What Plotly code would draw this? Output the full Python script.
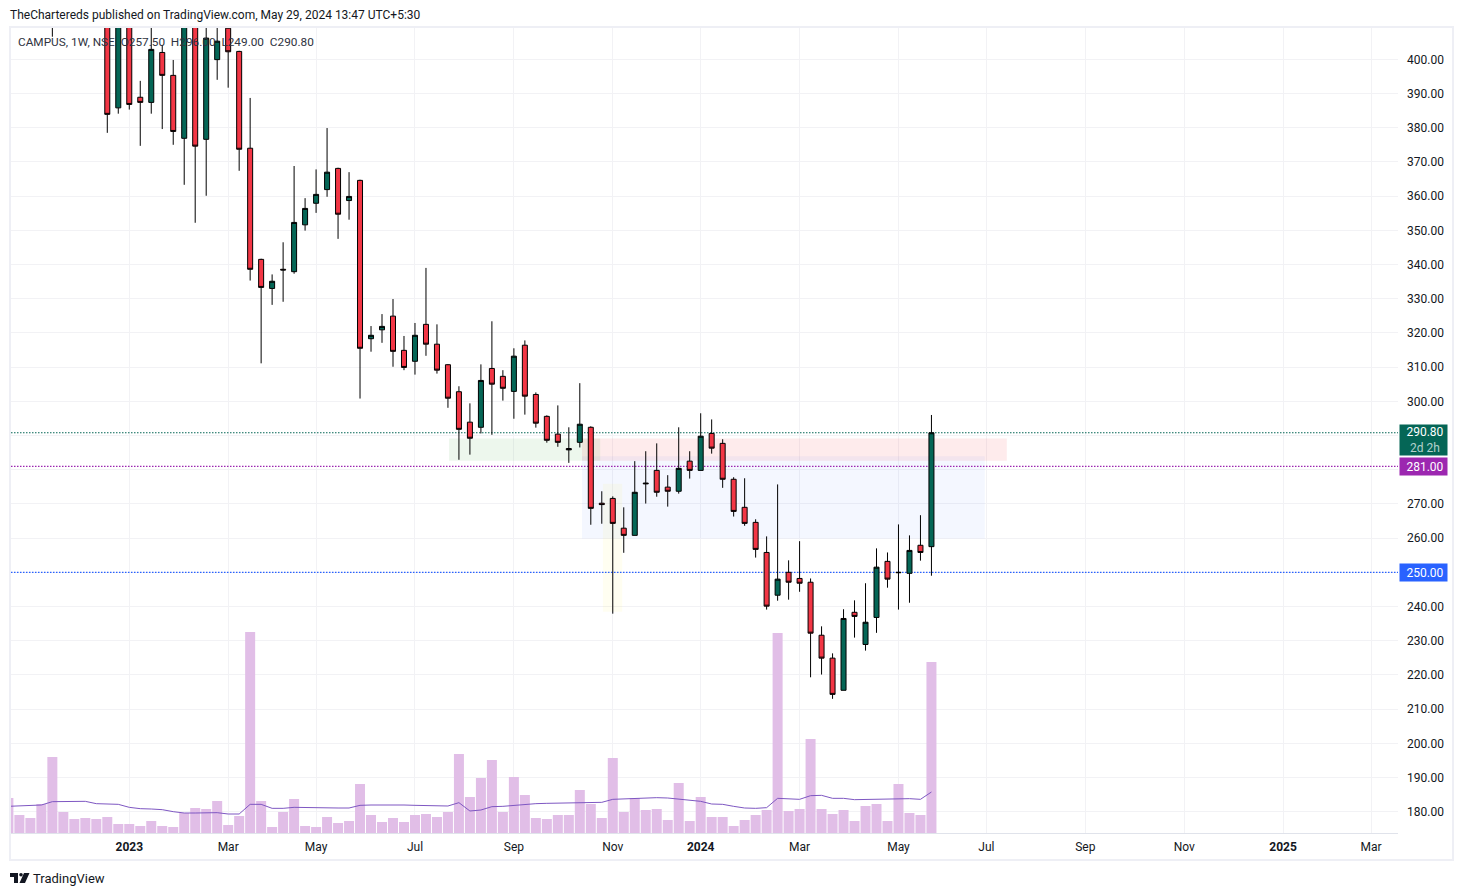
import datetime as dt
import plotly.graph_objects as go

# weekly bars, first one is the week of 17 Oct 2022 (first rows are off the top of the chart)
start_week = dt.datetime(2022, 10, 17)

opens = [None, None, None, None, 418, None, None, None, None,
         424, 385.8, 428, 388.9, 387.4, 402.0, 395.3, 376.9, 420, 376.6,
         399.9, 409.1, 402.3, 374.0, 341.5, 333.0, 338.6, 337.9, 351.6, 357.9,
         361.9, 368.1, 358.7, 364.6, 318.3, 320.9, 324.9, 314.9, 311.7, 322.5,
         316.7, 310.7, 302.8, 293.9, 292.4, 309.6, 307.3, 302.9, 316.4, 302.0,
         295.6, 290.4, 286.2, 288.0, 292.4, 270.2, 271.6, 262.9, 260.8, 276.1,
         279.8, 274.9, 273.7, 282.5, 279.8, 290.6, 287.7, 277.2, 269.0, 264.6,
         255.8, 243.3, 250.0, 248.2, 247.1, 231.6, 224.9, 215.5, 238.3, 228.9,
         236.8, 253.2, 250.0, 249.7, 257.9, 257.5]
highs = [None, None, None, None, 425, None, None, None, None,
         428, 440, 436, 393.7, 412, 404.2, 399.8, 425, 428, 414,
         412, 415, 402.5, 388.7, 341.7, 337.1, 346.5, 368.8, 359.4, 367.8,
         379.9, 368.3, 367.0, 364.8, 322.0, 325.5, 329.9, 319.1, 322.9, 339.0,
         322.5, 310.9, 304.4, 299.4, 310.8, 323.4, 309.1, 315.5, 317.8, 302.6,
         295.9, 298.8, 292.4, 305.3, 292.7, 273.7, 272.2, 269.0, 282.5, 285.4,
         287.7, 278.4, 292.4, 285.4, 296.5, 294.7, 288.9, 277.8, 277.5, 265.5,
         260.5, 275.7, 253.5, 259.1, 248.2, 234.2, 226.3, 239.2, 241.8, 246.8,
         257.0, 255.8, 264.0, 260.8, 266.7, 296.0]
lows = [None, None, None, None, 406.6, None, None, None, None,
        378.5, 384.1, 385.3, 374.7, 384.1, 379.6, 375.0, 363.3, 352.2, 360.1,
        394.0, 391.7, 367.4, 335.3, 311.1, 328.2, 329.1, 337.3, 349.9, 355.1,
        359.8, 347.5, 353.1, 300.8, 314.5, 317.1, 310.1, 309.1, 307.8, 313.3,
        308.1, 298.1, 282.9, 284.4, 290.6, 290.2, 300.2, 294.9, 296.1, 292.3,
        287.9, 286.7, 282.0, 286.5, 263.9, 264.2, 237.9, 255.7, 260.8, 270.1,
        272.1, 269.2, 273.0, 277.4, 279.8, 284.7, 274.7, 266.3, 263.6, 254.3,
        239.1, 241.7, 242.0, 244.3, 219.3, 220.1, 213.0, 215.5, 230.9, 227.1,
        232.3, 245.5, 239.1, 241.1, 253.4, 249.0]
closes = [None, None, None, None, 422, None, None, None, None,
          383.9, 430, 386.8, 387.4, 402.9, 395.3, 378.9, 420, 374.6, 406.2,
          405.3, 402.2, 373.7, 338.6, 333.3, 335.1, 338.4, 352.3, 356.4, 360.5,
          367.0, 354.7, 359.9, 315.5, 319.3, 321.9, 314.6, 309.9, 319.3, 316.7,
          309.1, 300.9, 291.8, 289.2, 306.1, 305.0, 303.8, 313.2, 301.5, 293.6,
          288.6, 288.0, 285.8, 293.3, 268.7, 269.8, 264.3, 260.8, 273.4, 275.9,
          273.4, 273.7, 280.4, 279.8, 289.8, 286.3, 277.2, 267.8, 264.3, 256.7,
          240.1, 248.0, 247.1, 246.8, 232.2, 224.9, 214.3, 236.5, 237.1, 235.4,
          251.5, 248.0, 249.9, 256.4, 255.8, 290.8]

# volume and its average, in the chart's own height units
volumes = [105, 54, 45, 87, 228, 63, 42, 45, 42, 48, 27, 27, 21, 36, 21, 18, 60, 75, 72, 96,
           24, 51, 603, 96, 18, 63, 102, 21, 18, 48, 30, 36, 147, 54, 33, 45, 33, 54, 57, 48,
           63, 237, 108, 165, 219, 63, 168, 114, 45, 42, 54, 54, 129, 87, 45, 225, 63, 105, 69, 72,
           39, 150, 36, 108, 48, 48, 21, 39, 54, 69, 600, 66, 72, 282, 72, 57, 69, 36, 81, 87,
           36, 147, 60, 54, 513]
volume_ma = [80, 81, 81, 84, 94, 95, 94, 95, 88, 87, 86, 77, 73, 72, 70, 64, 60, 60, 61, 61,
             57, 57, 86, 86, 74, 74, 77, 76, 75, 75, 75, 75, 83, 84, 84, 86, 84, 83, 82, 80,
             81, 91, 66, 69, 79, 80, 83, 87, 88, 89, 90, 91, 90, 91, 92, 101, 102, 105, 106, 106,
             105, 101, 98, 95, 87, 86, 80, 75, 74, 76, 104, 103, 101, 112, 113, 104, 104, 100, 101, 102,
             102, 102, 103, 101, 123]

tick_dates = ["2023-01-02", "2023-03-06", "2023-05-01", "2023-07-03", "2023-09-04", "2023-11-06",
              "2024-01-01", "2024-03-04", "2024-05-06", "2024-07-01", "2024-09-02", "2024-11-04",
              "2025-01-06", "2025-03-03"]
tick_names = ["<b>2023</b>", "Mar", "May", "Jul", "Sep", "Nov", "<b>2024</b>", "Mar", "May", "Jul",
              "Sep", "Nov", "<b>2025</b>", "Mar"]
price_ticks = list(range(180, 401, 10))
# these labels sit behind the price tags in the original, so they stay blank
hidden_price_labels = [250, 280, 290]

# price levels: value, colour
level_values = [290.8, 281.0, 250.0]
level_colors = ["#056656", "#9C27B0", "#2962FF"]

# zones: first date, last date, top price, bottom price, fill
zone_starts = ["2023-07-24 17:00", "2023-10-17 10:00", "2023-10-17 10:00", "2023-10-30 17:00"]
zone_ends = ["2023-10-29", "2024-07-14", "2024-06-30", "2023-11-12"]
zone_tops = [289.1, 289.1, 283.9, 275.9]
zone_bottoms = [282.6, 282.6, 259.9, 238.5]
zone_fills = ["rgba(76,175,80,0.10)", "rgba(242,54,69,0.10)", "rgba(41,98,255,0.05)", "rgba(255,235,59,0.07)"]

WIDTH, HEIGHT = 1447, 880
LEFT, RIGHT, TOP, BOTTOM = 11, 1398, 28, 833
FONT = "Roboto"
INK = "#131722"
GRID = "#f2f2f5"
FRAME = "#eeeff5"
PRICE_RANGE = [400 - (BOTTOM - 59.3) / 3.42, 400 + (59.3 - TOP) / 3.42]
VOLUME_TOP = 2415
X_RANGE = [start_week + dt.timedelta(days=1.66), start_week + dt.timedelta(days=885.2)]


def xp(px):
    return (px - LEFT) / (RIGHT - LEFT)


def yp(py):
    return (BOTTOM - py) / (BOTTOM - TOP)


def on_volume_axis(price):
    # grid, zones and level lines all live on the bottom axis, layer "between" fails on the overlaid one
    return (price - PRICE_RANGE[0]) / (PRICE_RANGE[1] - PRICE_RANGE[0]) * VOLUME_TOP


weeks = [start_week + dt.timedelta(days=7 * i) for i in range(len(opens))]

fig = go.Figure()
fig.add_trace(go.Bar(x=weeks, y=volumes, marker=dict(color="#e1bee7", line_width=0), yaxis="y", hoverinfo="skip"))
fig.add_trace(go.Scatter(x=weeks, y=volume_ma, mode="lines", line=dict(color="#7E57C2", width=1), yaxis="y",
                         hoverinfo="skip"))
fig.add_trace(go.Candlestick(
    x=weeks, open=opens, high=highs, low=lows, close=closes, yaxis="y2", whiskerwidth=0,
    increasing=dict(fillcolor="#056656", line=dict(color="#000000", width=1)),
    decreasing=dict(fillcolor="#F23645", line=dict(color="#000000", width=1)),
))

shapes = []
for first, last, top, bottom, fill in zip(zone_starts, zone_ends, zone_tops, zone_bottoms, zone_fills):
    shapes.append(dict(type="rect", xref="x", yref="y", x0=first, x1=last, y0=on_volume_axis(bottom),
                       y1=on_volume_axis(top), fillcolor=fill, line_width=0, layer="between"))
for value, color in zip(level_values, level_colors):
    shapes.append(dict(type="line", xref="x", yref="y", x0=X_RANGE[0], x1=X_RANGE[1], y0=on_volume_axis(value),
                       y1=on_volume_axis(value), line=dict(color=color, width=1.2, dash="1.5px 1.5px"),
                       layer="between"))

# outer frame of the widget
shapes.append(dict(type="rect", xref="paper", yref="paper", x0=xp(10), x1=xp(1453), y0=yp(27), y1=yp(860),
                   line=dict(color=FRAME, width=2), layer="below"))

# TradingView mark
logo = (f"M {xp(10)} {yp(873)} L {xp(18)} {yp(873)} L {xp(18)} {yp(883)} L {xp(14)} {yp(883)} "
        f"L {xp(14)} {yp(877)} L {xp(10)} {yp(877)} Z "
        f"M {xp(24)} {yp(873)} L {xp(29.5)} {yp(873)} L {xp(25)} {yp(883)} L {xp(19.5)} {yp(883)} Z")
shapes.append(dict(type="path", xref="paper", yref="paper", path=logo, fillcolor=INK, line_width=0))
shapes.append(dict(type="circle", xref="paper", yref="paper", x0=xp(19.2), x1=xp(22.8), y0=yp(873), y1=yp(876.6),
                   fillcolor=INK, line_width=0))

annotations = [
    dict(text="TheChartereds published on TradingView.com, May 29, 2024 13:47 UTC+5:30", xref="paper", yref="paper",
         x=xp(8), y=yp(15), xanchor="left", yanchor="middle", showarrow=False,
         font=dict(family=FONT, size=12, color=INK)),
    dict(text="CAMPUS, 1W, NSE  O257.50  H296.00  L249.00  C290.80", xref="paper", yref="paper",
         x=xp(16), y=yp(42), xanchor="left", yanchor="middle", showarrow=False,
         font=dict(family=FONT, size=11.8, color="#2f3341")),
    dict(text="TradingView", xref="paper", yref="paper", x=xp(31), y=yp(878), xanchor="left", yanchor="middle",
         showarrow=False, font=dict(family=FONT, size=13, color=INK)),
]

# price tags on the scale
for value, color in zip(level_values, level_colors):
    tag = dict(text=f"&nbsp;{value:.2f}", xref="paper", yref="y2", x=xp(1399), y=value, xanchor="left",
               yanchor="middle", showarrow=False, bgcolor=color, width=47, height=17, borderpad=0, align="center",
               font=dict(family=FONT, size=12, color="#ffffff"))
    if value == level_values[0]:
        tag.update(text=f"&nbsp;{value:.2f}<br><span style='color:#b4d1cc'>&nbsp;2d 2h</span>", height=30,
                   yanchor="top", yshift=9)
    annotations.append(tag)

fig.update_layout(
    width=WIDTH, height=HEIGHT, showlegend=False, plot_bgcolor="#ffffff", paper_bgcolor="#ffffff",
    margin=dict(l=LEFT - 8, r=8 + WIDTH - RIGHT, t=TOP - 8, b=8 + HEIGHT - BOTTOM, pad=0),
    bargap=0.09, boxgap=0.35, shapes=shapes, annotations=annotations,
    font=dict(family=FONT, size=12, color=INK),
    xaxis=dict(type="date", range=X_RANGE,
               tickvals=tick_dates, ticktext=tick_names, tickangle=0, showgrid=True, gridcolor=GRID, gridwidth=1,
               rangeslider_visible=False, showline=True, linecolor="#e0e3eb", linewidth=1, zeroline=False,
               ticks="", ticklabelstandoff=3, tickfont=dict(family=FONT, size=12, color=INK)),
    yaxis=dict(range=[0, VOLUME_TOP], tickvals=[on_volume_axis(v) for v in price_ticks], showticklabels=False,
               ticks="", showgrid=True, gridcolor=GRID, gridwidth=1, zeroline=False, showline=False),
    yaxis2=dict(overlaying="y", side="right", range=PRICE_RANGE, tickvals=price_ticks,
                ticktext=["" if v in hidden_price_labels else f"{v:.2f}" for v in price_ticks], showgrid=False,
                zeroline=False, ticks="", ticklabelstandoff=8, tickfont=dict(family=FONT, size=12, color=INK)),
)

fig.write_html("out.html")
